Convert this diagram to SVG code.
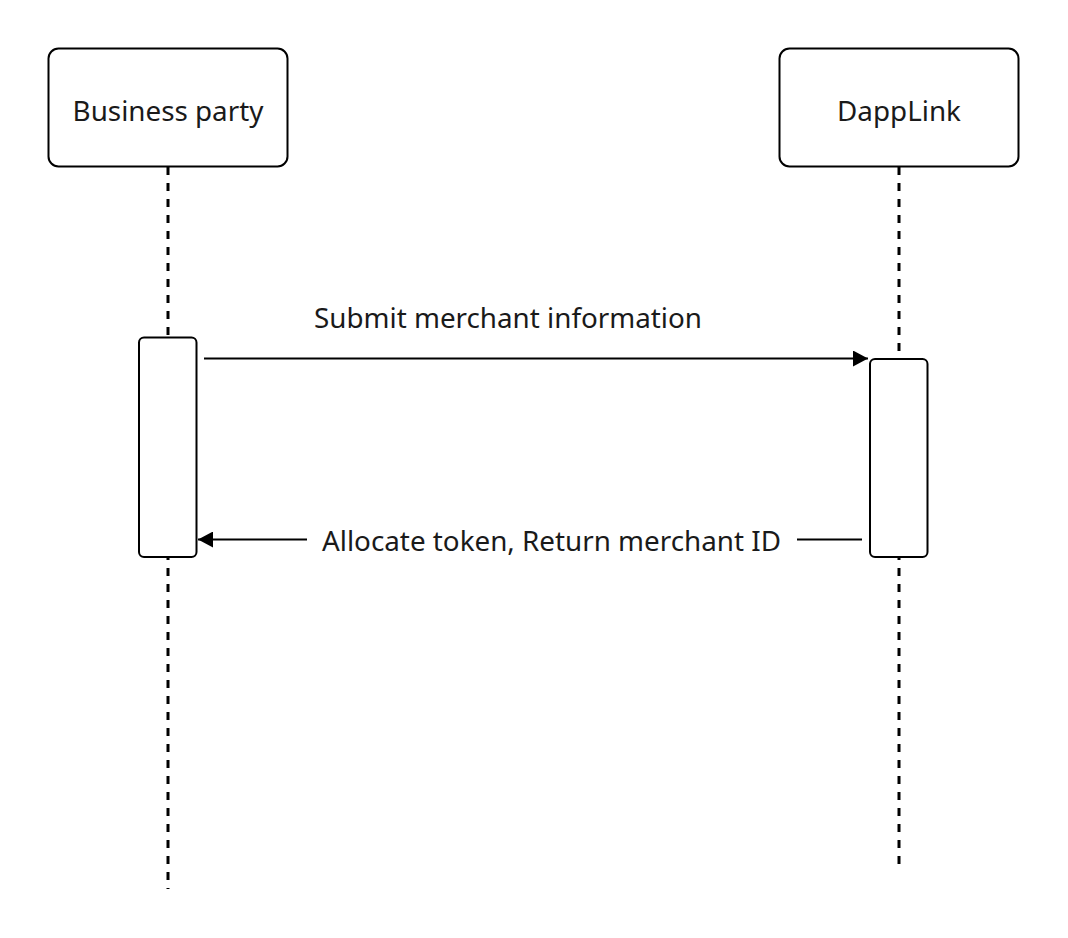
<svg xmlns="http://www.w3.org/2000/svg" width="1068" height="938" viewBox="0 0 1068 938">
<style>
.box{fill:#fff;stroke:#000;stroke-width:2}
.act{fill:#fff;stroke:#000;stroke-width:2}
.life{stroke:#000;stroke-width:3;stroke-dasharray:8 8;fill:none}
.msg{stroke:#000;stroke-width:1.8;fill:none}
.t{font-family:"Noto Sans","Open Sans",sans-serif;fill:#1a1a1a;text-anchor:middle}
.lbl{font-size:27.8px}
</style>
<defs>
<marker id="ah" markerUnits="userSpaceOnUse" markerWidth="16" markerHeight="16" viewBox="0 0 15 16" refX="15" refY="8" orient="auto">
<path d="M0,0 L15,8 L0,16 z" fill="#000"/>
</marker>
</defs>
<rect width="1068" height="938" fill="#fff"/>
<g id="lifelines">
<line class="life" x1="168" y1="167" x2="168" y2="338"/>
<line class="life" x1="168" y1="552" x2="168" y2="889"/>
<line class="life" x1="899" y1="167" x2="899" y2="359"/>
<line class="life" x1="899" y1="552" x2="899" y2="864"/>
</g>
<g id="business-party">
<rect class="box" x="48.5" y="48.5" width="239" height="118" rx="10"/>
<text class="t lbl" x="168" y="121">Business party</text>
</g>
<g id="dapplink">
<rect class="box" x="779.5" y="48.5" width="239" height="118" rx="10"/>
<text class="t lbl" x="899" y="121">DappLink</text>
</g>
<g id="activation-business">
<rect class="act" x="139" y="337.5" width="57.5" height="219.5" rx="5"/>
</g>
<g id="activation-dapplink">
<rect class="act" x="870" y="359" width="57.5" height="198" rx="5"/>
</g>
<g id="connectors">
<line class="msg" x1="204" y1="358.5" x2="868" y2="358.5" marker-end="url(#ah)"/>
<text class="t lbl" x="508" y="328">Submit merchant information</text>
<path class="msg" d="M862,539.5 H797 M307,539.5 H198" marker-end="url(#ah)"/>
<text class="t lbl" x="551.5" y="550.5">Allocate token, Return merchant ID</text>
</g>
</svg>
